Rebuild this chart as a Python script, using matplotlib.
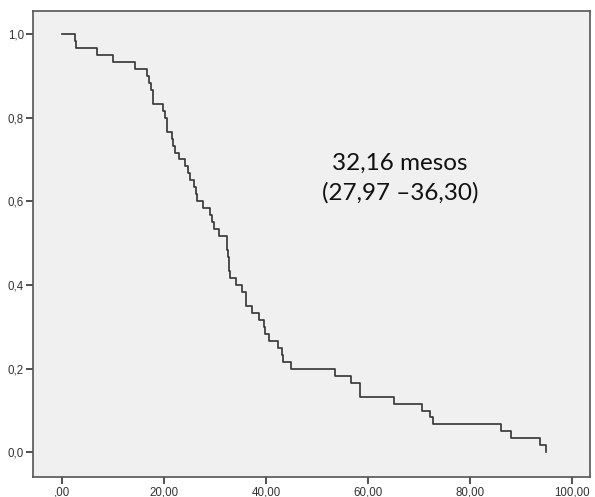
import numpy as np
import matplotlib
matplotlib.use("Agg")
import matplotlib.pyplot as plt

# Event times (months), n = 60, no censoring
event_times = [2.5, 2.7, 6.8, 9.9, 14.3,
               16.7, 17.0, 17.4, 17.8, 17.9, 19.7, 20.2, 20.5, 20.6, 21.5,
               21.8, 22.2, 23.0, 24.1, 24.6, 25.0, 25.9, 26.2, 26.4, 27.7,
               28.9, 29.4, 29.8, 30.8, 32.3, 32.4, 32.5, 32.7, 32.8, 33.0,
               34.1, 35.2, 36.0, 36.0, 37.3, 38.6, 39.5, 39.8, 40.6, 42.4,
               43.1, 43.4, 44.9, 53.5, 56.7, 58.4, 58.4, 65.1, 70.5, 72.2,
               72.8, 86.1, 88.0, 93.6, 94.9]
n_total = 60

x_ticks = [0, 20, 40, 60, 80, 100]
x_tick_labels = [",00", "20,00", "40,00", "60,00", "80,00", "100,00"]
y_ticks = [0.0, 0.2, 0.4, 0.6, 0.8, 1.0]
y_tick_labels = ["0,0", "0,2", "0,4", "0,6", "0,8", "1,0"]
annotation_lines = ["32,16 mesos", "(27,97 \u201336,30)"]

t = np.array(event_times)
surv = (n_total - np.arange(1, len(t) + 1)) / n_total
xs = np.concatenate([[0.0], t])
ys = np.concatenate([[1.0], surv])

fig = plt.figure(figsize=(5.95, 4.97), dpi=100)
ax = fig.add_axes([0.0555, 0.0402, 0.9361, 0.9377])
ax.set_facecolor("#F0F0F0")
ax.plot(xs, ys, drawstyle="steps-post", color="#333333", lw=1.2)

ax.set_xlim(-5.7, 103.5)
ax.set_ylim(-0.059, 1.055)
ax.set_xticks(x_ticks)
ax.set_xticklabels(x_tick_labels)
ax.set_yticks(y_ticks)
ax.set_yticklabels(y_tick_labels)
ax.tick_params(direction="out", length=5, width=1.2, color="#333333",
               labelsize=8.3, labelcolor="#333333", pad=1.5)
for lab in ax.get_xticklabels() + ax.get_yticklabels():
    lab.set_family("Liberation Sans")
for sp in ax.spines.values():
    sp.set_color("#555555")
    sp.set_linewidth(1.2)

ax.text(0.659, 0.674, annotation_lines[0], transform=ax.transAxes,
        ha="center", va="center", fontsize=17.5, family="Lato", color="#111111")
ax.text(0.659, 0.609, annotation_lines[1], transform=ax.transAxes,
        ha="center", va="center", fontsize=17.5, family="Lato", color="#111111")

fig.savefig("out.png", dpi=100)
